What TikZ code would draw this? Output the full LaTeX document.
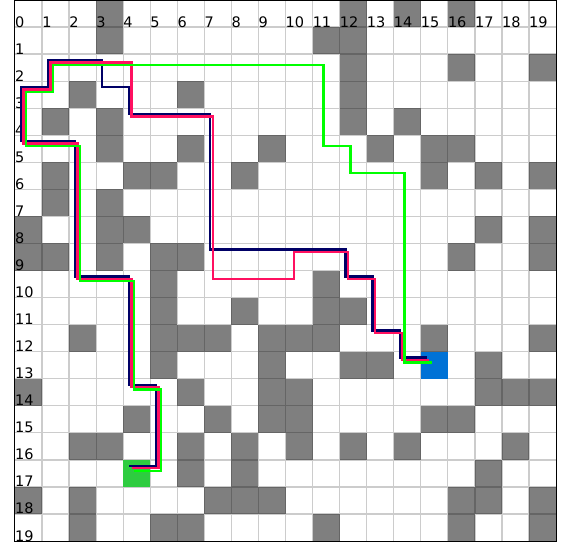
\documentclass[tikz,border=0pt]{standalone}
\usepackage{fontspec}
\setmainfont{DejaVu Sans}
\usepackage{xcolor}
\usepackage{tikz}
\definecolor{startgreen}{RGB}{46,204,64}
\definecolor{goalblue}{RGB}{0,114,214}
\definecolor{pathnavy}{RGB}{0,0,102}
\definecolor{pathpink}{RGB}{255,16,96}
\definecolor{pathlime}{RGB}{0,255,0}
\tikzset{
  wall/.style={fill=black, fill opacity=0.5},
  gridline/.style={black!20, line width=1.3pt},
  route/.style={line width=2.3pt},
  cellnum/.style={anchor=base west, inner sep=0pt, font=\fontsize{14.5}{16}\selectfont}
}

\begin{document}
\begin{tikzpicture}[x=27.05pt, y=-27.05pt]
      \useasboundingbox (-0.5545,0) rectangle (20.517,20.037);
      \fill[white] (-0.5545,0) rectangle (20.517,20.037);
      % grid
      \foreach \i in {1,...,19} {
        \draw[gridline] (\i,0) -- (\i,20);
        \draw[gridline] (0,\i) -- (20,\i);
      }
      % obstacles
      \foreach \c/\r in {3/0,12/0,14/0,16/0, 3/1,11/1,12/1, 12/2,16/2,19/2,
          2/3,6/3,12/3, 1/4,3/4,12/4,14/4, 3/5,6/5,9/5,13/5,15/5,16/5,
          1/6,4/6,5/6,8/6,15/6,17/6,19/6, 1/7,3/7, 0/8,3/8,4/8,17/8,19/8,
          0/9,1/9,3/9,5/9,6/9,16/9,19/9, 5/10,11/10, 5/11,8/11,11/11,12/11,
          2/12,5/12,6/12,7/12,9/12,10/12,11/12,15/12,19/12,
          5/13,9/13,12/13,13/13,17/13, 0/14,6/14,9/14,10/14,17/14,18/14,19/14,
          4/15,7/15,9/15,10/15,15/15,16/15, 2/16,3/16,6/16,8/16,10/16,12/16,14/16,18/16,
          6/17,8/17,17/17, 0/18,2/18,7/18,8/18,9/18,16/18,17/18,19/18,
          2/19,5/19,6/19,11/19,16/19,19/19}
        \fill[wall] (\c,\r) rectangle ++(1,1);
      % start and goal
      \fill[startgreen] (4,17) rectangle ++(1,1);
      \fill[goalblue] (15,13) rectangle ++(1,1);
      % numbers
      \foreach \c in {0,...,19}
        \node[cellnum] (col\c) at (\c,1) {\c};
      \foreach \r in {1,...,19}
        \node[cellnum] (row\r) at (0,\r+1) {\r};
      % routes
      \draw[route, pathnavy, shift={(0.22,0.22)}] (4,17) -- (5,17) -- (5,14) -- (4,14) -- (4,10)
        -- (2,10) -- (2,5) -- (0,5) -- (0,3) -- (1,3) -- (1,2) -- (3,2) -- (3,3) -- (4,3)
        -- (4,4) -- (7,4) -- (7,9) -- (12,9) -- (12,10) -- (13,10) -- (13,12) -- (14,12)
        -- (14,13) -- (15,13);
      \draw[route, pathpink, shift={(0.31,0.31)}] (4,17) -- (5,17) -- (5,14) -- (4,14) -- (4,10)
        -- (2,10) -- (2,5) -- (0,5) -- (0,3) -- (1,3) -- (1,2) -- (4,2) -- (4,4) -- (7,4)
        -- (7,10) -- (10,10) -- (10,9) -- (12,9) -- (12,10) -- (13,10) -- (13,12) -- (14,12)
        -- (14,13) -- (15,13);
      \draw[route, pathlime, shift={(0.40,0.40)}] (4,17) -- (5,17) -- (5,14) -- (4,14) -- (4,10)
        -- (2,10) -- (2,5) -- (0,5) -- (0,3) -- (1,3) -- (1,2) -- (11,2) -- (11,5) -- (12,5)
        -- (12,6) -- (14,6) -- (14,13) -- (15,13);
      % frame
      \draw[black, line width=1pt] (0,0) rectangle (20,20);
    \end{tikzpicture}
\end{document}
